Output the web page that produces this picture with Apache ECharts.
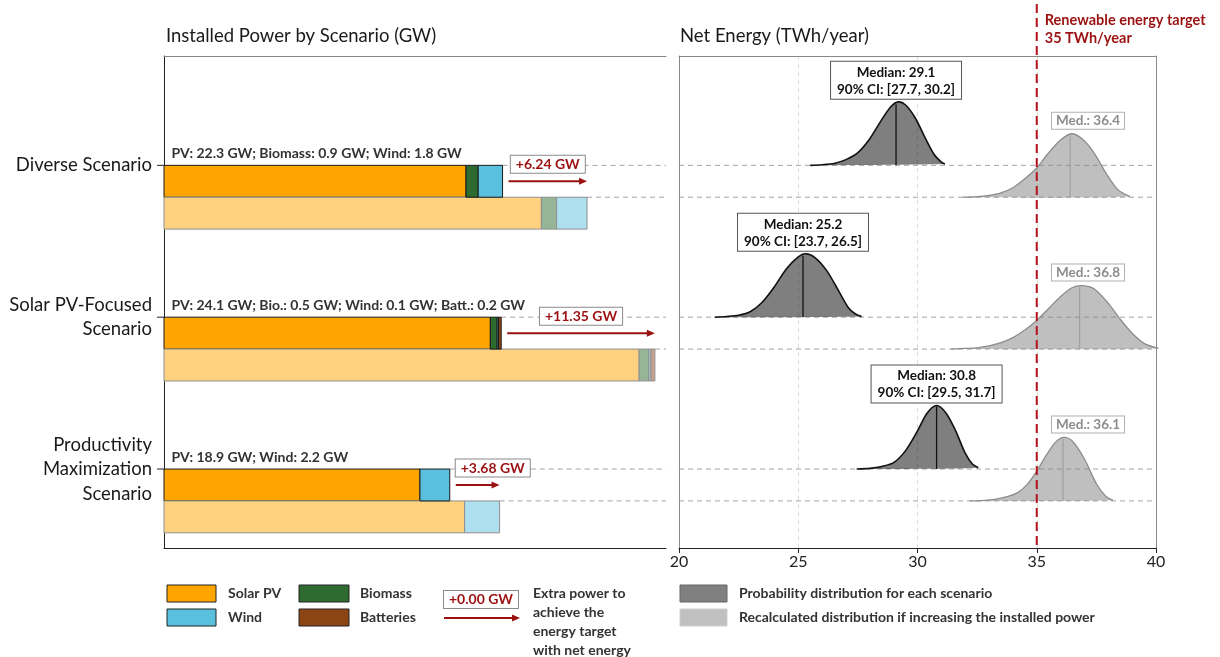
<!DOCTYPE html>
<html><head><meta charset="utf-8">
<script src="https://cdn.jsdelivr.net/npm/echarts@6/dist/echarts.min.js"></script>
<style>html,body{margin:0;padding:0;background:#fff}#c{width:1220px;height:657px}</style>
</head><body><div id="c"></div>
<script>
// ---------------- data ----------------
const scenarios = ['Diverse Scenario', 'Solar PV-Focused\nScenario', 'Productivity\nMaximization\nScenario'];
const solarPV = [22.3, 24.1, 18.9];
const biomass = [0.9, 0.5, 0];
const wind = [1.8, 0.1, 2.2];
const batteries = [0, 0.2, 0];
const extraPower = [6.24, 11.35, 3.68];
const mixLabels = ['PV: 22.3 GW; Biomass: 0.9 GW; Wind: 1.8 GW',
                   'PV: 24.1 GW; Bio.: 0.5 GW; Wind: 0.1 GW; Batt.: 0.2 GW',
                   'PV: 18.9 GW; Wind: 2.2 GW'];
const baseMedian = [29.1, 25.2, 30.8];
const baseCI = [[27.7, 30.2], [23.7, 26.5], [29.5, 31.7]];
const upgradedMedian = [36.4, 36.8, 36.1];
const energyTarget = 35;
const energyTicks = [20, 25, 30, 35, 40];
// density curves: [TWh/year, relative density]
const diverseBase = [[25.5,0],[26.0,0.01],[26.5,0.03],[27.0,0.09],[27.5,0.2],[28.0,0.42],[28.5,0.72],[28.9,0.93],[29.2,1.0],[29.5,0.95],[29.9,0.75],[30.3,0.45],[30.7,0.17],[31.0,0.05],[31.15,0.02]];
const diverseUp = [[31.9,0],[32.5,0.01],[33.0,0.03],[33.5,0.07],[34.0,0.15],[34.5,0.29],[35.0,0.46],[35.5,0.7],[36.0,0.9],[36.45,1.0],[36.9,0.92],[37.4,0.7],[37.9,0.38],[38.4,0.12],[38.9,0.01]];
const solarBase = [[21.5,0],[22.0,0.01],[22.5,0.03],[23.0,0.09],[23.5,0.24],[24.0,0.48],[24.5,0.76],[25.0,0.95],[25.3,1.0],[25.7,0.94],[26.2,0.73],[26.7,0.41],[27.1,0.15],[27.4,0.05],[27.66,0.01]];
const solarUp = [[31.4,0],[32.0,0.01],[32.5,0.02],[33.0,0.05],[33.5,0.1],[34.0,0.18],[34.5,0.3],[35.0,0.45],[35.5,0.64],[36.0,0.83],[36.5,0.97],[36.9,1.0],[37.4,0.95],[38.0,0.72],[38.5,0.47],[39.0,0.25],[39.5,0.09],[40.1,0.01]];
const prodBase = [[27.45,0],[28.0,0.01],[28.5,0.04],[29.0,0.1],[29.5,0.29],[30.0,0.6],[30.4,0.88],[30.8,1.0],[31.2,0.88],[31.6,0.6],[32.0,0.25],[32.3,0.08],[32.55,0.02]];
const prodUp = [[32.2,0],[32.8,0.01],[33.3,0.03],[33.8,0.07],[34.2,0.13],[34.6,0.26],[35.0,0.47],[35.4,0.72],[35.8,0.93],[36.15,1.0],[36.5,0.94],[37.0,0.66],[37.5,0.27],[37.9,0.07],[38.2,0.01]];

// ---------------- styling ----------------
const FONT = 'Lato, "Open Sans", sans-serif';
const BAR_H = 0.21, PEAK_H = 0.418, Y_MIN = -0.72, Y_MAX = 2.52, X0_MAX = 37.07;
const colors = ['#FFA500', '#2E6B30', '#5BC0DE', '#8B4513'];
const faded = ['#FFD280', '#96B597', '#ADDFEE', '#C5A289'];
const RED = '#9B1111';
const comps = [solarPV, biomass, wind, batteries];
const baseCurves = [diverseBase, solarBase, prodBase];
const upCurves = [diverseUp, solarUp, prodUp];

const mctx = document.createElement('canvas').getContext('2d');
function measure(t, f) { mctx.font = f; return mctx.measureText(t).width; }
function interp(c, x) {
  for (let k = 0; k < c.length - 1; k++) {
    if (x >= c[k][0] && x <= c[k+1][0]) {
      const t = (x - c[k][0]) / (c[k+1][0] - c[k][0]);
      return c[k][1] + t * (c[k+1][1] - c[k][1]);
    }
  }
  return 0;
}

// bar segments
const barData = [];
const annoData = [];
scenarios.forEach((s, i) => {
  const tot = comps.reduce((a, c) => a + c[i], 0);
  const k = (tot + extraPower[i]) / tot;
  let a = 0, b = 0;
  comps.forEach((c, j) => {
    const v = c[i]; if (!v) return;
    barData.push([a, a + v, i, 0, j]); a += v;
    barData.push([b, b + v * k, i, 1, j]); b += v * k;
  });
  annoData.push([i, tot, tot + extraPower[i], extraPower[i]]);
});

function renderBar(params, api) {
  const s = api.value(0), e = api.value(1), i = api.value(2), row = api.value(3), j = api.value(4);
  const y0 = i + row * BAR_H;
  const p0 = api.coord([s, y0]), p1 = api.coord([e, y0 + BAR_H]);
  return { type: 'rect', shape: { x: p0[0], y: p0[1], width: p1[0] - p0[0], height: p1[1] - p0[1] },
    style: { fill: row ? faded[j] : colors[j], stroke: row ? '#8f8f8f' : '#1a1a1a', lineWidth: 1 } };
}

function renderLeftAnno(params, api) {
  const i = api.value(0), baseTot = api.value(1), upTot = api.value(2), extra = api.value(3);
  const pTop = api.coord([0, i]), pMid = api.coord([0, i + BAR_H]), pBarMid = api.coord([0, i + BAR_H / 2]);
  const xBaseEnd = api.coord([baseTot, i])[0], xUpEnd = api.coord([upTot, i])[0], xRight = api.coord([X0_MAX, i])[0];
  const x0 = pTop[0];
  const aStart = xBaseEnd + 6, aEnd = xUpEnd, ay = pBarMid[1];
  const boxText = '+' + extra.toFixed(2) + ' GW';
  const bf = 'bold 14px ' + FONT;
  const w = measure(boxText, bf) + 10;
  const cx = Math.max((aStart + aEnd) / 2, aStart + w / 2);
  const dash = { stroke: '#a3a3a3', lineWidth: 1, lineDash: [5, 4] };
  return { type: 'group', children: [
    { type: 'line', shape: { x1: xBaseEnd, y1: pTop[1], x2: xRight, y2: pTop[1] }, style: dash },
    { type: 'line', shape: { x1: xUpEnd, y1: pMid[1], x2: xRight, y2: pMid[1] }, style: dash },
    { type: 'text', x: x0 + 7.5, y: pTop[1] - 12, style: { text: mixLabels[i], font: 'bold 14px ' + FONT, fill: '#333', align: 'left', verticalAlign: 'middle' } },
    { type: 'text', x: cx, y: pTop[1] - 1, style: { text: boxText, font: bf, fill: RED, align: 'center', verticalAlign: 'middle',
        backgroundColor: '#fff', borderColor: '#8a8a8a', borderWidth: 1, padding: [1, 5, 0, 5], lineHeight: 16 } },
    { type: 'line', shape: { x1: aStart, y1: ay, x2: aEnd - 6, y2: ay }, style: { stroke: RED, lineWidth: 2 } },
    { type: 'polygon', shape: { points: [[aEnd, ay], [aEnd - 8, ay - 3.5], [aEnd - 8, ay + 3.5]] }, style: { fill: RED } },
    { type: 'text', x: x0 - 12, y: pTop[1], style: { text: scenarios[i], font: '18.5px ' + FONT, fill: '#1a1a1a', align: 'right', verticalAlign: 'middle', lineHeight: 24.5 } },
    { type: 'line', shape: { x1: x0 - 7, y1: pTop[1], x2: x0, y2: pTop[1] }, style: { stroke: '#222', lineWidth: 1 } }
  ] };
}

function renderGuides(params, api) {
  const i = api.value(0);
  const dash = { stroke: '#a3a3a3', lineWidth: 1, lineDash: [5, 4] };
  const a0 = api.coord([energyTicks[0], i]), a1 = api.coord([energyTicks[energyTicks.length - 1], i]);
  const b0 = api.coord([energyTicks[0], i + BAR_H]);
  return { type: 'group', children: [
    { type: 'line', shape: { x1: a0[0], y1: a0[1], x2: a1[0], y2: a0[1] }, style: dash },
    { type: 'line', shape: { x1: a0[0], y1: b0[1], x2: a1[0], y2: b0[1] }, style: dash }
  ] };
}

function renderDist(params, api) {
  const i = api.value(0), row = api.value(1);
  const curve = row ? upCurves[i] : baseCurves[i];
  const base = i + row * BAR_H;
  const pts = curve.map(([x, h]) => api.coord([x, base - h * PEAK_H]));
  const med = row ? upgradedMedian[i] : baseMedian[i];
  const hm = interp(curve, med);
  const m0 = api.coord([med, base]), m1 = api.coord([med, base - hm * PEAK_H]);
  const peakY = api.coord([med, base - PEAK_H])[1];
  const children = [
    { type: 'polygon', shape: { points: pts, smooth: 0.3 }, style: { fill: row ? 'rgba(128,128,128,0.5)' : 'rgba(0,0,0,0.5)' } },
    { type: 'polyline', shape: { points: pts, smooth: 0.3 }, style: { fill: null, stroke: row ? '#8c8c8c' : '#111', lineWidth: row ? 1.3 : 1.6 } },
    { type: 'line', shape: { x1: m0[0], y1: m0[1], x2: m1[0], y2: m1[1] + 1 }, style: { stroke: row ? '#999' : '#111', lineWidth: row ? 1 : 1.3 } }
  ];
  if (!row) {
    children.push({ type: 'text', x: m0[0], y: peakY - 3, style: {
      text: 'Median: ' + med.toFixed(1) + '\n90% CI: [' + baseCI[i][0].toFixed(1) + ', ' + baseCI[i][1].toFixed(1) + ']',
      font: 'bold 13.5px ' + FONT, fill: '#111', align: 'center', verticalAlign: 'bottom', lineHeight: 17,
      backgroundColor: '#fff', borderColor: '#555', borderWidth: 1, padding: [2, 6, 1, 6] } });
  } else {
    const lx = api.coord([37.15, base])[0];
    children.push({ type: 'text', x: lx, y: peakY - 5, style: {
      text: 'Med.: ' + med.toFixed(1), font: 'bold 13.5px ' + FONT, fill: '#8c8c8c', align: 'center', verticalAlign: 'bottom', lineHeight: 16,
      backgroundColor: '#fff', borderColor: '#b0b0b0', borderWidth: 1, padding: [0, 4, 0, 4] } });
  }
  return { type: 'group', children };
}

function renderTarget(params, api) {
  const x = api.value(0);
  const pb = api.coord([x, Y_MAX]);
  return { type: 'group', children: [
    { type: 'line', shape: { x1: pb[0], y1: 4, x2: pb[0], y2: pb[1] }, style: { stroke: '#B5121B', lineWidth: 2, lineDash: [9, 5] } },
    { type: 'text', x: pb[0] + 8, y: 11, style: { text: 'Renewable energy target\n' + x + ' TWh/year', font: 'bold 14.5px ' + FONT, fill: RED, align: 'left', verticalAlign: 'top', lineHeight: 18 } }
  ] };
}

const distData = [[0,0],[0,1],[1,0],[1,1],[2,0],[2,1]];

const chart = echarts.init(document.getElementById('c'));
const hiddenAxis = { axisTick: { show: false }, axisLabel: { show: false }, splitLine: { show: false } };
const legText = { font: 'bold 14px ' + FONT, fill: '#333', verticalAlign: 'middle' };
chart.setOption({
  animation: false,
  backgroundColor: '#fff',
  grid: [
    { left: 164, top: 56, width: 502, height: 492 },
    { left: 679, top: 56, width: 477, height: 492 }
  ],
  xAxis: [
    Object.assign({ type: 'value', gridIndex: 0, min: 0, max: X0_MAX, axisLine: { show: true, onZero: false, lineStyle: { color: '#222' } } }, hiddenAxis),
    { type: 'value', gridIndex: 1, min: energyTicks[0], max: energyTicks[energyTicks.length - 1], interval: 5,
      axisLine: { show: true, onZero: false, lineStyle: { color: '#222' } },
      axisTick: { show: true, length: 5, lineStyle: { color: '#222' } },
      axisLabel: { fontSize: 16, color: '#222', fontFamily: FONT, margin: 6 },
      splitLine: { show: true, lineStyle: { color: '#dcdcdc', type: [4, 4] } } },
    Object.assign({ type: 'value', gridIndex: 0, position: 'top', min: 0, max: X0_MAX, axisLine: { show: true, onZero: false, lineStyle: { color: '#888' } } }, hiddenAxis),
    Object.assign({ type: 'value', gridIndex: 1, position: 'top', min: 20, max: 40, axisLine: { show: true, onZero: false, lineStyle: { color: '#888' } } }, hiddenAxis)
  ],
  yAxis: [
    Object.assign({ type: 'value', gridIndex: 0, inverse: true, min: Y_MIN, max: Y_MAX, axisLine: { show: true, onZero: false, lineStyle: { color: '#222' } } }, hiddenAxis),
    Object.assign({ type: 'value', gridIndex: 1, inverse: true, min: Y_MIN, max: Y_MAX, axisLine: { show: true, onZero: false, lineStyle: { color: '#888' } } }, hiddenAxis),
    Object.assign({ type: 'value', gridIndex: 1, position: 'right', inverse: true, min: Y_MIN, max: Y_MAX, axisLine: { show: true, onZero: false, lineStyle: { color: '#888' } } }, hiddenAxis)
  ],
  series: [
    { type: 'custom', xAxisIndex: 0, yAxisIndex: 0, renderItem: renderLeftAnno, data: annoData, z: 3 },
    { type: 'custom', xAxisIndex: 0, yAxisIndex: 0, renderItem: renderBar, data: barData, z: 4 },
    { type: 'custom', xAxisIndex: 1, yAxisIndex: 1, renderItem: renderGuides, data: [[0],[1],[2]], z: 2 },
    { type: 'custom', xAxisIndex: 1, yAxisIndex: 1, renderItem: renderDist, data: distData, z: 4 },
    { type: 'custom', xAxisIndex: 1, yAxisIndex: 1, renderItem: renderTarget, data: [[energyTarget]], z: 6 }
  ],
  graphic: [
    { type: 'text', left: 166, top: 27, style: { text: 'Installed Power by Scenario (GW)', font: '18.5px ' + FONT, fill: '#1a1a1a' } },
    { type: 'text', left: 680, top: 27, style: { text: 'Net Energy (TWh/year)', font: '18.5px ' + FONT, fill: '#1a1a1a' } },
    // left legend
    { type: 'rect', shape: { x: 167, y: 585, width: 49, height: 17 }, style: { fill: colors[0], stroke: '#222' } },
    { type: 'text', x: 228, y: 593.5, style: Object.assign({ text: 'Solar PV' }, legText) },
    { type: 'rect', shape: { x: 167, y: 609, width: 49, height: 17 }, style: { fill: colors[2], stroke: '#222' } },
    { type: 'text', x: 228, y: 617.5, style: Object.assign({ text: 'Wind' }, legText) },
    { type: 'rect', shape: { x: 299, y: 585, width: 50, height: 17 }, style: { fill: colors[1], stroke: '#222' } },
    { type: 'text', x: 360, y: 593.5, style: Object.assign({ text: 'Biomass' }, legText) },
    { type: 'rect', shape: { x: 299, y: 609, width: 50, height: 17 }, style: { fill: colors[3], stroke: '#222' } },
    { type: 'text', x: 360, y: 617.5, style: Object.assign({ text: 'Batteries' }, legText) },
    { type: 'text', x: 481, y: 599.5, style: { text: '+0.00 GW', font: 'bold 14px ' + FONT, fill: RED, align: 'center', verticalAlign: 'middle',
        backgroundColor: '#fff', borderColor: '#8a8a8a', borderWidth: 1, padding: [1, 5, 0, 5], lineHeight: 16 } },
    { type: 'line', shape: { x1: 444, y1: 618, x2: 513, y2: 618 }, style: { stroke: RED, lineWidth: 2 } },
    { type: 'polygon', shape: { points: [[520, 618], [512, 614.5], [512, 621.5]] }, style: { fill: RED } },
    { type: 'text', x: 533, y: 583.5, style: { text: 'Extra power to\nachieve the\nenergy target\nwith net energy', font: 'bold 14px ' + FONT, fill: '#333', verticalAlign: 'top', lineHeight: 19 } },
    // right legend
    { type: 'rect', shape: { x: 680, y: 585, width: 47, height: 17 }, style: { fill: '#808080', stroke: '#666' } },
    { type: 'text', x: 739, y: 593.5, style: Object.assign({ text: 'Probability distribution for each scenario' }, legText) },
    { type: 'rect', shape: { x: 680, y: 609, width: 47, height: 17 }, style: { fill: '#c0c0c0', stroke: '#cfcfcf' } },
    { type: 'text', x: 739, y: 617.5, style: Object.assign({ text: 'Recalculated distribution if increasing the installed power' }, legText) }
  ]
});
</script>
</body></html>
